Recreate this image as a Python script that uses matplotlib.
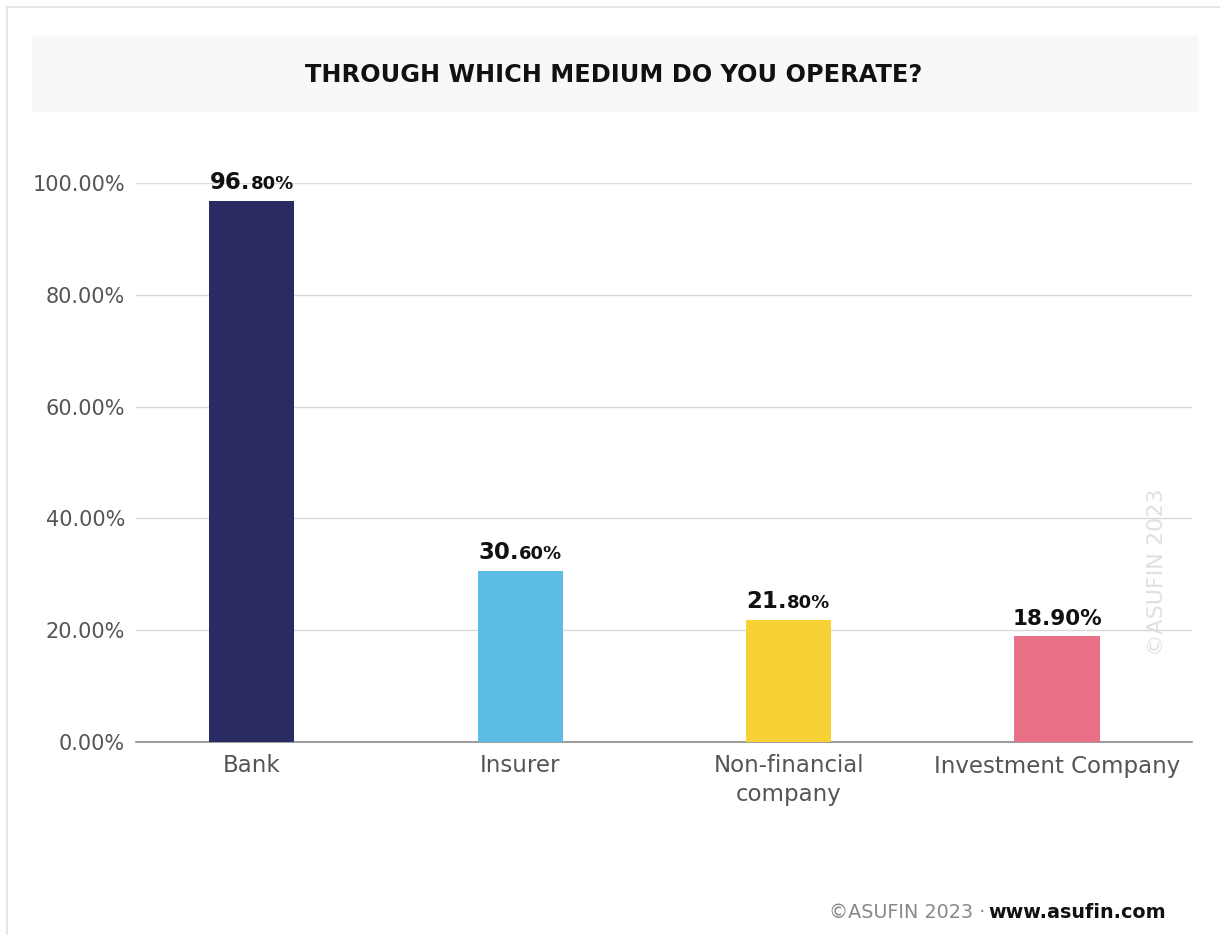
import matplotlib
matplotlib.use("Agg")
import matplotlib.pyplot as plt
from matplotlib.patches import Rectangle
from matplotlib.ticker import FuncFormatter
import matplotlib.transforms as mtransforms

categories = ["Bank", "Insurer", "Non-financial\ncompany", "Investment Company"]
values = [96.80, 30.60, 21.80, 18.90]
# big part / small part of each value label
label_big = ["96.", "30.", "21.", "18.90%"]
label_small = ["80%", "60%", "80%", ""]
colors = ["#2a2b62", "#5bbce6", "#f8d235", "#ea7088"]
yticks = [0, 20, 40, 60, 80, 100]

W, H = 1220, 935
fig = plt.figure(figsize=(W / 100, H / 100), dpi=100)
fig.patch.set_facecolor("white")

# card border (top and left edges)
fig.add_artist(plt.Line2D([7 / W, 7 / W], [0, 1 - 7 / H], color="#e2e2e2", lw=1.2))
fig.add_artist(plt.Line2D([7 / W, 1], [1 - 7 / H, 1 - 7 / H], color="#e2e2e2", lw=1.2))

# title band
fig.add_artist(Rectangle((32 / W, 1 - 111 / H), (1197 - 32) / W, 75 / H,
                         transform=fig.transFigure, color="#f8f8f8", zorder=0))
fig.text(614 / W, 1 - 75 / H, "THROUGH WHICH MEDIUM DO YOU OPERATE?",
         ha="center", va="center", fontsize=17.3, fontweight="bold", color="#111111")

# plot area
x0, x1 = 136, 1192
y0, y1 = 742, 183
ax = fig.add_axes([x0 / W, 1 - y0 / H, (x1 - x0) / W, (y0 - y1) / H])
ax.set_xlim(-0.432, 3.503)
ax.set_ylim(0, 100)

pos = list(range(len(categories)))
ax.bar(pos, values, width=0.317, color=colors, zorder=3)

ax.set_yticks(yticks)
ax.yaxis.set_major_formatter(FuncFormatter(lambda v, p: f"{v:.2f}%"))
ax.grid(axis="y", color="#d9d9d9", lw=1, zorder=0)
ax.set_xticks(pos)
ax.set_xticklabels(categories, fontsize=16.5, color="#555555", linespacing=1.3)
ax.tick_params(axis="y", labelsize=15, labelcolor="#555555", length=0, pad=8)
ax.tick_params(axis="x", length=0, pad=9)
for s in ["top", "right", "left"]:
    ax.spines[s].set_visible(False)
ax.spines["bottom"].set_color("#8a8a8a")
ax.spines["bottom"].set_linewidth(1.2)

# value labels: large bold integer part + smaller decimal part, centred as a pair
fig.canvas.draw()
r = fig.canvas.get_renderer()
for i, v in enumerate(values):
    big_size = 16.5 if label_small[i] else 15.5
    tb = ax.text(i, v, label_big[i], ha="left", va="bottom", fontsize=big_size,
                 fontweight="bold", color="#111111")
    ts = ax.text(i, v, label_small[i], ha="left", va="bottom", fontsize=13,
                 fontweight="semibold", color="#111111")
    wb = tb.get_window_extent(r).width
    ws = ts.get_window_extent(r).width if label_small[i] else 0
    total = wb + ws
    dy = 7
    tb.set_transform(ax.transData + mtransforms.ScaledTranslation(
        -total / 2 / 100, dy / 100, fig.dpi_scale_trans))
    ts.set_transform(ax.transData + mtransforms.ScaledTranslation(
        (-total / 2 + wb) / 100, (dy + 1) / 100, fig.dpi_scale_trans))

# watermark
fig.text(1157 / W, 1 - 572 / H, "©ASUFIN 2023", rotation=90, ha="center", va="center",
         fontsize=16, color="#e0e0e0")

# footer
t2 = fig.text(1166 / W, 1 - 913 / H, "www.asufin.com", ha="right", va="center",
              fontsize=13.8, fontweight="semibold", color="#111111")
fig.canvas.draw()
w2 = t2.get_window_extent(fig.canvas.get_renderer()).width
fig.text((1166 - w2 - 3) / W, 1 - 913 / H, "©ASUFIN 2023 ·", ha="right", va="center",
         fontsize=13.8, color="#888888")

fig.savefig("out.png", dpi=100)
